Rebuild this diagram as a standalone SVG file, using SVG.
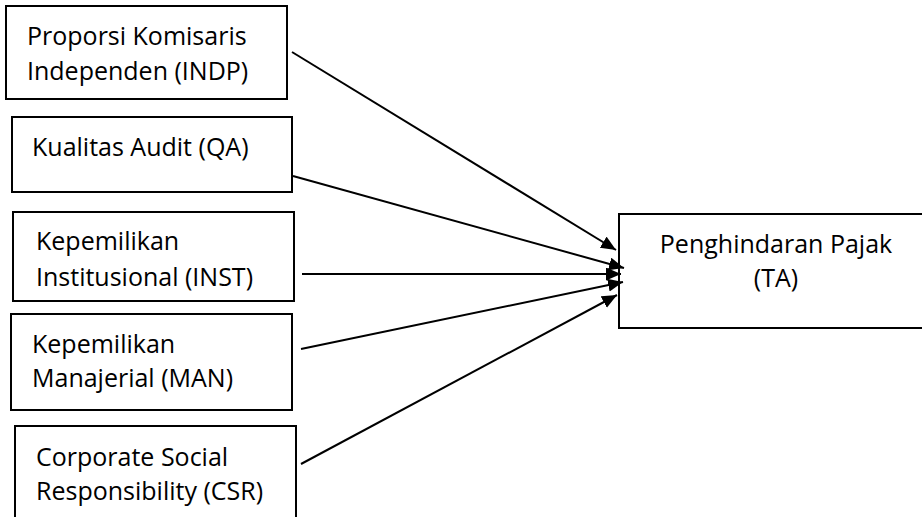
<svg xmlns="http://www.w3.org/2000/svg" width="922" height="517" viewBox="0 0 922 517">
  <style>
    .box { fill: #ffffff; stroke: #000000; stroke-width: 2; }
    .label { font-family: "Open Sans", "Liberation Sans", sans-serif; font-size: 25px; fill: #000000; }
    .link { stroke: #000000; stroke-width: 2; fill: none; marker-end: url(#head); }
  </style>
  <defs>
    <marker id="head" markerUnits="userSpaceOnUse" markerWidth="16" markerHeight="14" refX="15" refY="6.5" orient="auto">
      <path d="M0,0 L15,6.5 L0,13 Z" fill="#000000"/>
    </marker>
  </defs>
  <rect width="922" height="517" fill="#ffffff"/>

  <g id="indp">
    <rect class="box" x="6" y="6" width="281" height="93"/>
    <text class="label" x="27" y="45">Proporsi Komisaris</text>
    <text class="label" x="27" y="80">Independen (INDP)</text>
  </g>

  <g id="qa">
    <rect class="box" x="12" y="117" width="280" height="75"/>
    <text class="label" x="32" y="156">Kualitas Audit (QA)</text>
  </g>

  <g id="inst">
    <rect class="box" x="13" y="212" width="281" height="89"/>
    <text class="label" x="36" y="250">Kepemilikan</text>
    <text class="label" x="36" y="286">Institusional (INST)</text>
  </g>

  <g id="man">
    <rect class="box" x="11" y="314" width="281" height="96"/>
    <text class="label" x="32" y="353">Kepemilikan</text>
    <text class="label" x="32" y="387">Manajerial (MAN)</text>
  </g>

  <g id="csr">
    <rect class="box" x="15" y="426" width="281" height="110"/>
    <text class="label" x="36" y="466">Corporate Social</text>
    <text class="label" x="36" y="500">Responsibility (CSR)</text>
  </g>

  <g id="ta">
    <rect class="box" x="619" y="214" width="320" height="114"/>
    <text class="label" x="776" y="253" text-anchor="middle">Penghindaran Pajak</text>
    <text class="label" x="776" y="287" text-anchor="middle">(TA)</text>
  </g>

  <g id="connectors">
    <line class="link" x1="292" y1="52" x2="616" y2="250"/>
    <line class="link" x1="293" y1="176" x2="624" y2="268"/>
    <line class="link" x1="302" y1="274" x2="621" y2="274"/>
    <line class="link" x1="301" y1="349" x2="623" y2="282"/>
    <line class="link" x1="301" y1="464" x2="617" y2="295"/>
  </g>
</svg>
